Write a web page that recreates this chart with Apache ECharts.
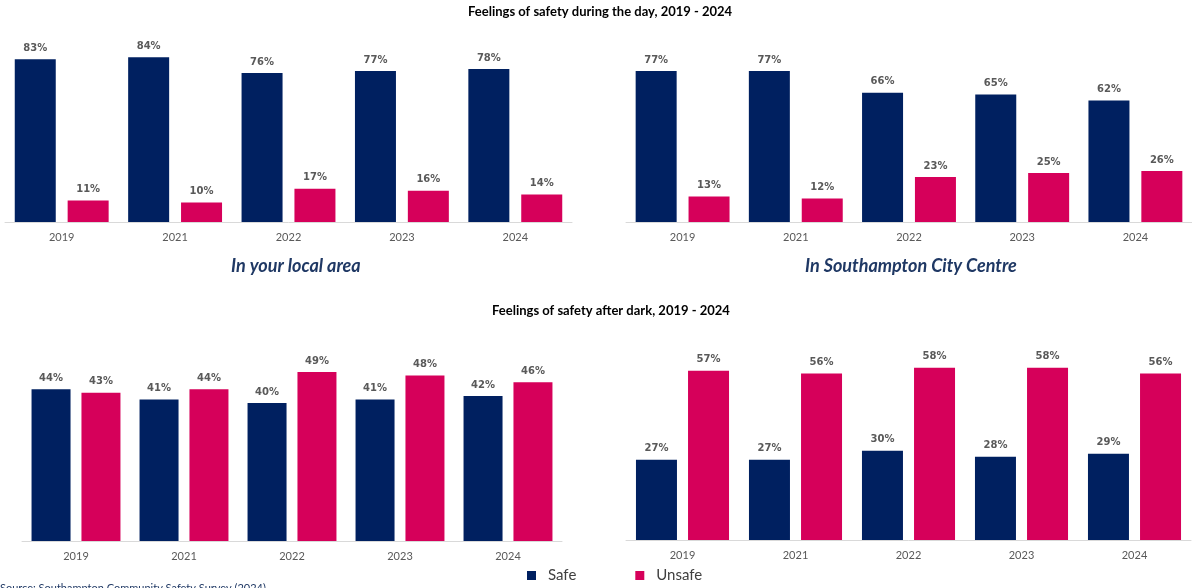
<!DOCTYPE html>
<html>
<head>
<meta charset="utf-8">
<script src="https://cdn.jsdelivr.net/npm/echarts@6/dist/echarts.min.js"></script>
<style>
html,body{margin:0;padding:0;background:#fff;}
#c{width:1192px;height:588px;}
</style>
</head>
<body>
<div id="c"></div>
<script>
const years = ['2019', '2021', '2022', '2023', '2024'];
const dayLocalSafe = [83, 84, 76, 77, 78];
const dayLocalUnsafe = [11, 10, 17, 16, 14];
const dayCentreSafe = [77, 77, 66, 65, 62];
const dayCentreUnsafe = [13, 12, 23, 25, 26];
const darkLocalSafe = [44, 41, 40, 41, 42];
const darkLocalUnsafe = [43, 44, 49, 48, 46];
const darkCentreSafe = [27, 27, 30, 28, 29];
const darkCentreUnsafe = [57, 56, 58, 58, 56];

const NAVY = '#002060';
const PINK = '#D6005A';
const LABEL = '#595959';

const chart = echarts.init(document.getElementById('c'));

const grids = [
  {left: 5, width: 567, top: 26, height: 196},
  {left: 626, width: 566, top: 26, height: 196},
  {left: 22, width: 540, top: 334, height: 207},
  {left: 626, width: 565, top: 332, height: 208}
];
const maxes = [100, 100, 60, 70];
const barW = [41, 41, 39, 41];
const gaps = ['29%', '29%', '28%', '27%'];
const data = [
  [dayLocalSafe, dayLocalUnsafe],
  [dayCentreSafe, dayCentreUnsafe],
  [darkLocalSafe, darkLocalUnsafe],
  [darkCentreSafe, darkCentreUnsafe]
];

const xAxes = [], yAxes = [], series = [];
grids.forEach((g, i) => {
  xAxes.push({
    type: 'category', gridIndex: i, data: years,
    axisLine: {show: true, lineStyle: {color: '#D9D9D9', width: 1}},
    axisTick: {show: false},
    axisLabel: {color: LABEL, fontSize: 11, fontFamily: 'Lato', margin: 10}
  });
  yAxes.push({
    type: 'value', gridIndex: i, min: 0, max: maxes[i],
    show: false, splitLine: {show: false}
  });
  ['Safe', 'Unsafe'].forEach((name, k) => {
    series.push({
      name: name, type: 'bar', xAxisIndex: i, yAxisIndex: i,
      data: data[i][k], barWidth: barW[i], barGap: gaps[i],
      itemStyle: {color: k === 0 ? NAVY : PINK},
      label: {
        show: true, position: 'top', distance: 6,
        formatter: '{c}%', color: LABEL, fontSize: 10, fontWeight: 'bold',
        fontFamily: 'DejaVu Sans'
      }
    });
  });
});

chart.setOption({
  animation: false,
  grid: grids,
  xAxis: xAxes,
  yAxis: yAxes,
  series: series,
  legend: {
    data: ['Safe', 'Unsafe'],
    left: 522, top: 563,
    icon: 'rect', itemWidth: 9, itemHeight: 9, itemGap: 59,
    textStyle: {color: '#404040', fontSize: 15, fontFamily: 'Lato', padding: [0, 0, 0, 7]}
  },
  graphic: [
    {type: 'text', left: 468, top: 5, style: {text: 'Feelings of safety during the day, 2019 - 2024', fontSize: 13, fontWeight: 'bold', fontFamily: 'Lato', fill: '#000'}},
    {type: 'text', left: 492, top: 304, style: {text: 'Feelings of safety after dark, 2019 - 2024', fontSize: 13, fontWeight: 'bold', fontFamily: 'Lato', fill: '#000'}},
    {type: 'text', left: 231, top: 257, style: {text: 'In your local area', fontSize: 18, fontWeight: 'bold', fontStyle: 'italic', fontFamily: 'Lato', fill: '#1F3864'}},
    {type: 'text', left: 805, top: 257, style: {text: 'In Southampton City Centre', fontSize: 18, fontWeight: 'bold', fontStyle: 'italic', fontFamily: 'Lato', fill: '#1F3864'}},
    {type: 'text', left: 0, top: 583, style: {text: 'Source: Southampton Community Safety Survey (2024)', fontSize: 11, fontFamily: 'Lato', fill: '#1F3864'}}
  ]
});
</script>
</body>
</html>
